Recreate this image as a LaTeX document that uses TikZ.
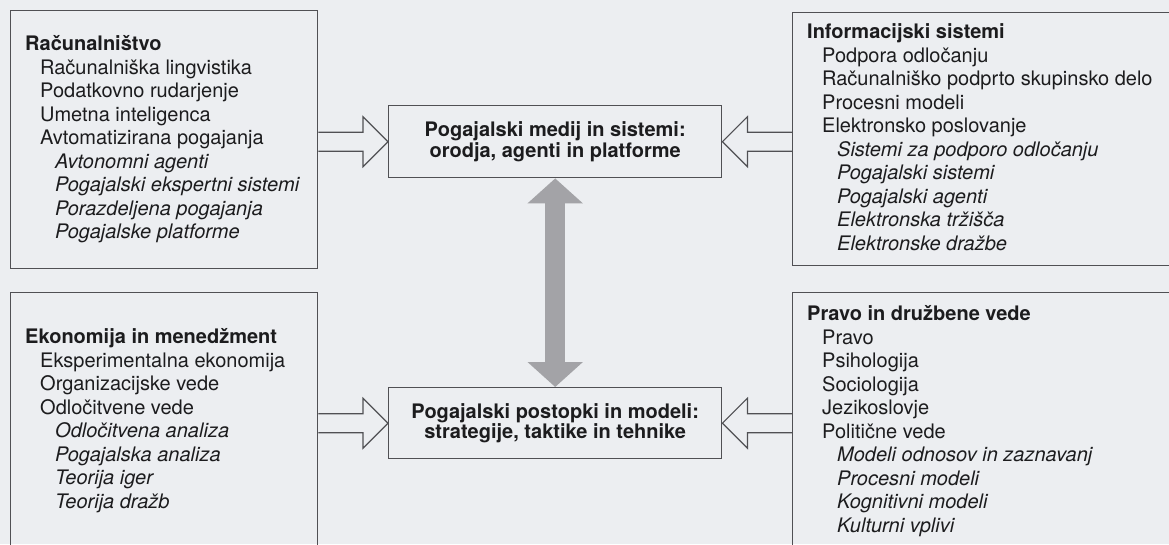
\documentclass[tikz,border=0pt]{standalone}
\usepackage{fontspec}
\setmainfont{TeX Gyre Heros}
\usetikzlibrary{calc,arrows.meta}

\definecolor{pagebg}{RGB}{236,238,241}
\definecolor{boxline}{RGB}{80,80,84}
\definecolor{inkgray}{RGB}{28,28,30}
\definecolor{bigarrow}{RGB}{163,163,167}

\newcommand{\fld}{\hspace*{15pt}}
\newcommand{\subfld}[1]{\hspace*{30pt}\textit{#1}}

% hollow arrow from the edge of a field box to the tip at a topic box
\newcommand{\openarrow}[2]{%
  \draw[hollow] let \p1=(#1), \p2=(#2), \n1={sign(\x2-\x1)} in
    (\x1,\y2+9.5pt) -- (\x2-\n1*25pt,\y2+9.5pt) -- (\x2-\n1*25pt,\y2+25pt)
    -- (\x2,\y2) -- (\x2-\n1*25pt,\y2-25pt) -- (\x2-\n1*25pt,\y2-9.5pt)
    -- (\x1,\y2-9.5pt);}

\tikzset{
  fieldbox/.style={draw=boxline, line width=1.4pt, inner sep=0pt, anchor=north west},
  fieldtext/.style={anchor=north west, align=left, inner sep=0pt, text=inkgray,
    font=\fontsize{20}{23.5}\selectfont, execute at begin node={\strut}},
  topicbox/.style={draw=boxline, line width=1.4pt, minimum width=333pt, minimum height=72pt,
    anchor=north west, align=center, text=inkgray,
    font=\fontsize{20}{20.5}\selectfont\bfseries},
  hollow/.style={draw=boxline, line width=1.2pt, line join=miter},
  bigtip/.tip={Triangle[width=54pt,length=25pt]}
}

\begin{document}
\begin{tikzpicture}[x=1pt,y=-1pt]
  \useasboundingbox (0,0) rectangle (1169,544);
  \fill[pagebg] (0,0) rectangle (1169,544);
  \clip (0,0) rectangle (1169,544);

  % field boxes
  \node[fieldbox, minimum width=307pt, minimum height=258pt] (rac) at (10,10) {};
  \node[fieldbox, minimum width=390pt, minimum height=253pt] (infsys) at (792,12) {};
  \node[fieldbox, minimum width=307pt, minimum height=270pt] (ekon) at (10,292) {};
  \node[fieldbox, minimum width=390pt, minimum height=270pt] (pravo) at (792,292) {};

  % strut height is 16.45pt, so the first baseline lies that far below each anchor
  \node[fieldtext] (rac-txt) at ([shift={(15pt,-25.5pt)}]rac.north west)
    {\textbf{Računalništvo}\\
     \fld Računalniška lingvistika\\
     \fld Podatkovno rudarjenje\\
     \fld Umetna inteligenca\\
     \fld Avtomatizirana pogajanja\\
     \subfld{Avtonomni agenti}\\
     \subfld{Pogajalski ekspertni sistemi}\\
     \subfld{Porazdeljena pogajanja}\\
     \subfld{Pogajalske platforme}};
  \node[fieldtext] (infsys-txt) at ([shift={(15pt,-11.5pt)}]infsys.north west)
    {\textbf{Informacijski sistemi}\\
     \fld Podpora odločanju\\
     \fld Računalniško podprto skupinsko delo\\
     \fld Procesni modeli\\
     \fld Elektronsko poslovanje\\
     \subfld{Sistemi za podporo odločanju}\\
     \subfld{Pogajalski sistemi}\\
     \subfld{Pogajalski agenti}\\
     \subfld{Elektronska tržišča}\\
     \subfld{Elektronske dražbe}};
  \node[fieldtext] (ekon-txt) at ([shift={(15pt,-36.5pt)}]ekon.north west)
    {\textbf{Ekonomija in menedžment}\\
     \fld Eksperimentalna ekonomija\\
     \fld Organizacijske vede\\
     \fld Odločitvene vede\\
     \subfld{Odločitvena analiza}\\
     \subfld{Pogajalska analiza}\\
     \subfld{Teorija iger}\\
     \subfld{Teorija dražb}};
  \node[fieldtext] (pravo-txt) at ([shift={(15pt,-13.5pt)}]pravo.north west)
    {\textbf{Pravo in družbene vede}\\
     \fld Pravo\\
     \fld Psihologija\\
     \fld Sociologija\\
     \fld Jezikoslovje\\
     \fld Politične vede\\
     \subfld{Modeli odnosov in zaznavanj}\\
     \subfld{Procesni modeli}\\
     \subfld{Kognitivni modeli}\\
     \subfld{Kulturni vplivi}};

  % topic boxes
  \node[topicbox] (medij) at (388,105) {Pogajalski medij in sistemi:\\orodja, agenti in platforme};
  \node[topicbox, minimum height=71pt] (postopki) at (388,387) {Pogajalski postopki in modeli:\\strategije, taktike in tehnike};

  % connectors
  \openarrow{rac.east}{medij.west}
  \openarrow{infsys.west}{medij.east}
  \openarrow{ekon.east}{postopki.west}
  \openarrow{pravo.west}{postopki.east}
  \draw[bigarrow, line width=20pt, bigtip-bigtip] (medij.south) -- (postopki.north);
\end{tikzpicture}
\end{document}
